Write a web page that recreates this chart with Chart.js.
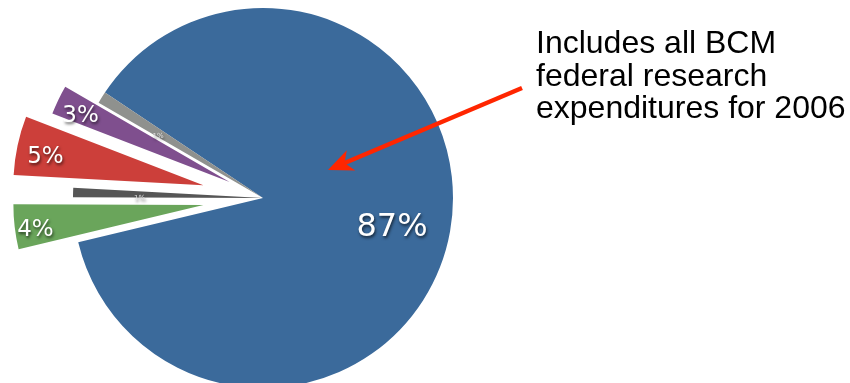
<!DOCTYPE html>
<html>
<head>
<meta charset="utf-8">
<script src="https://cdn.jsdelivr.net/npm/chart.js@4.4.1/dist/chart.umd.min.js"></script>
<style>
  html, body { margin: 0; padding: 0; background: #fff; overflow: hidden; }
  #wrap { position: relative; width: 850px; height: 383px; }
  #note {
    position: absolute; left: 536px; top: 26px;
    font: 32px/32.5px "Liberation Sans", Arial, sans-serif;
    color: #000; white-space: nowrap;
  }
</style>
</head>
<body>
<div id="wrap">
  <canvas id="pie"></canvas>
  <div id="note">Includes all BCM<br>federal research<br>expenditures for 2006</div>
</div>
<script>
// research expenditure shares (percent), clockwise from the upper left
const sources = ['Federal', 'Source B', 'Source C', 'Source D', 'Source E', 'Source F'];
const shares = [86.9, 3.8, 0.8, 5.0, 2.5, 1.0];

// look of each wedge
const sliceColors = ['#3b6a9b', '#6aa55b', '#565656', '#cc3f3a', '#7f4f8e', '#8f918e'];
const pullOut = [0, 60, 0, 61, 37, 0];          // px a wedge is pulled away from the centre
const labelSize = [32, 23, 7, 23, 23, 7];
const labelDist = [0.69, 0.89, 0.65, 0.85, 0.87, 0.65];

const R = 190;

// draw each arc shifted along its bisector, without the angle trimming that the built-in offset does
const explode = {
    id: 'explode',
    beforeDatasetDraw(chart, args) {
        const ctx = chart.ctx;
        args.meta.data.forEach((arc, i) => {
            const mid = (arc.startAngle + arc.endAngle) / 2;
            ctx.save();
            ctx.translate(Math.cos(mid) * pullOut[i], Math.sin(mid) * pullOut[i]);
            arc.draw(ctx);
            ctx.restore();
        });
        return false;
    }
};

// percentage text on each wedge, digits centred on the anchor point
const sliceLabels = {
    id: 'sliceLabels',
    afterDatasetsDraw(chart) {
        const ctx = chart.ctx;
        ctx.save();
        chart.getDatasetMeta(0).data.forEach((arc, i) => {
            const mid = (arc.startAngle + arc.endAngle) / 2;
            const d = pullOut[i] + labelDist[i] * R;
            const x = arc.x + Math.cos(mid) * d;
            const y = arc.y + Math.sin(mid) * d;
            ctx.font = labelSize[i] + 'px "DejaVu Sans", sans-serif';
            ctx.textAlign = 'center';
            ctx.textBaseline = 'alphabetic';
            ctx.shadowColor = 'rgba(0,0,0,0.65)';
            ctx.shadowBlur = 3;
            ctx.shadowOffsetX = 1;
            ctx.shadowOffsetY = 2;
            ctx.fillStyle = labelSize[i] < 10 ? '#e6e6e6' : '#fff';
            ctx.fillText(Math.round(shares[i]) + '%', x, y + labelSize[i] * 0.36 + 3);
        });
        ctx.restore();
    }
};

// red arrow from the note into the big wedge
const noteArrow = {
    id: 'noteArrow',
    afterDraw(chart) {
        const ctx = chart.ctx;
        const arc = chart.getDatasetMeta(0).data[0];
        const tip = [arc.x + 65, arc.y - 28];
        const tail = [522, 88];
        const dx = tail[0] - tip[0], dy = tail[1] - tip[1];
        const len = Math.hypot(dx, dy);
        const ux = dx / len, uy = dy / len;
        const nx = -uy, ny = ux;
        const headLen = 25, halfW = 11, notch = 18;

        ctx.save();
        ctx.strokeStyle = '#ff2600';
        ctx.fillStyle = '#ff2600';
        ctx.lineWidth = 4.5;
        ctx.beginPath();
        ctx.moveTo(tail[0], tail[1]);
        ctx.lineTo(tip[0] + ux * notch, tip[1] + uy * notch);
        ctx.stroke();

        ctx.beginPath();
        ctx.moveTo(tip[0], tip[1]);
        ctx.lineTo(tip[0] + ux * headLen + nx * halfW, tip[1] + uy * headLen + ny * halfW);
        ctx.lineTo(tip[0] + ux * notch, tip[1] + uy * notch);
        ctx.lineTo(tip[0] + ux * headLen - nx * halfW, tip[1] + uy * headLen - ny * halfW);
        ctx.closePath();
        ctx.fill();
        ctx.restore();
    }
};

new Chart(document.getElementById('pie'), {
    type: 'pie',
    data: {
        labels: sources,
        datasets: [{
            data: shares,
            backgroundColor: sliceColors,
            borderWidth: 0,
            radius: R,
            clip: false
        }]
    },
    options: {
        responsive: true,
        maintainAspectRatio: false,
        animation: false,
        events: [],
        rotation: 303.7,
        layout: { padding: { left: 0, right: 324, top: 13, bottom: 0 } },
        plugins: {
            legend: { display: false },
            tooltip: { enabled: false }
        }
    },
    plugins: [explode, sliceLabels, noteArrow]
});
</script>
</body>
</html>
